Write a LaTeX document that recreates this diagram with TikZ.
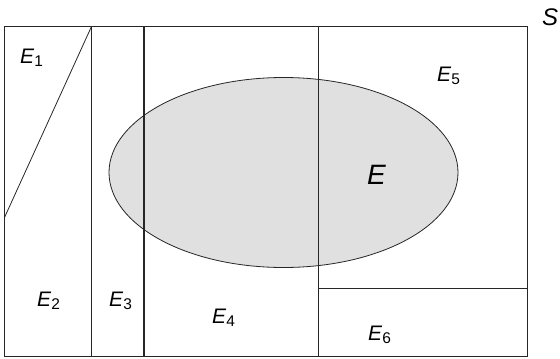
\documentclass[tikz,border=0pt]{standalone}
\usepackage{fontspec}
\setmainfont{Liberation Sans}
\usepackage{xcolor}
\definecolor{setgray}{HTML}{E0E0E0}
\definecolor{edgegray}{HTML}{262626}
\newcommand{\evt}[1]{\textit{E}\raisebox{-0.32ex}{\fontsize{15.5}{16}\selectfont #1}}

\begin{document}
\begin{tikzpicture}[
  x=1pt, y=-1pt,
  part/.style={draw=edgegray, line width=0.8pt},
  region/.style={inner sep=0pt, anchor=base west, font=\fontsize{21}{22}\selectfont},
  bigset/.style={fill=setgray, draw=edgegray, line width=0.8pt}
]
\useasboundingbox (0,0) rectangle (560,359);
% sample space corners
\coordinate (nw) at (4.5,26.5);
\coordinate (se) at (527.5,356);
\coordinate (cut) at (91.5,26.5);
\coordinate (side) at (4.5,217.5);
\coordinate (mid) at (318,288);
% the event E
\draw[bigset] (283.5,172.5) ellipse [x radius=174.5, y radius=95];
% partition
\draw[part] (nw) rectangle (se);
\draw[part] (side) -- (cut);
\draw[part] (cut) -- (cut |- se);
\draw[part, line width=1.05pt] (144,26.5) -- (144,356);
\draw[part] (318,26.5) -- (318,356);
\draw[part] (mid) -- (mid -| se);
% labels
\node[region] (e1) at (20,63) {\evt{1}};
\node[region] (e2) at (37,306) {\evt{2}};
\node[region] (e3) at (109,306) {\evt{3}};
\node[region] (e4) at (212,323) {\evt{4}};
\node[region] (e5) at (437,81) {\evt{5}};
\node[region] (e6) at (368,340) {\evt{6}};
\node[region, font=\fontsize{28}{30}\selectfont] (e) at (367,184) {\textit{E}};
\node[region, font=\fontsize{24}{26}\selectfont] (s) at (542,25) {\textit{S}};
\end{tikzpicture}
\end{document}
